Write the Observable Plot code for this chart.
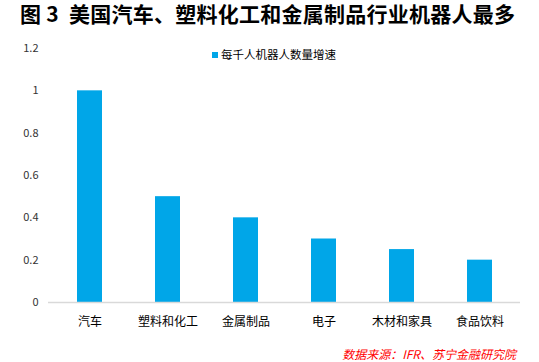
<!DOCTYPE html>
<html><head><meta charset="utf-8">
<script src="https://cdn.jsdelivr.net/npm/d3@7"></script>
<script src="https://cdn.jsdelivr.net/npm/@observablehq/plot@0.6"></script>
<style>
body{margin:0;background:#fff;font-family:"Noto Sans CJK SC",sans-serif;}
#wrap{position:relative;width:539px;height:362px;overflow:hidden;}
#title{height:40px;padding-left:20px;font-size:21px;line-height:26px;font-weight:bold;color:#000;letter-spacing:0.25px;white-space:nowrap;box-sizing:border-box;}
#chart{height:295px;}
#chart svg{display:block;}
#legend{position:absolute;left:212px;top:46px;font-size:11.5px;line-height:17px;color:#000;white-space:nowrap;}
#legend span.sw{display:inline-block;width:6px;height:6px;background:#00a6e8;margin-right:3px;vertical-align:middle;position:relative;top:-1px;}
#caption{height:27px;padding-top:10px;padding-right:23px;text-align:right;font-size:12px;line-height:17px;color:#ff0000;font-style:italic;white-space:nowrap;box-sizing:border-box;}
</style></head>
<body>
<div id="wrap">
<div id="title">图 3&nbsp; 美国汽车、塑料化工和金属制品行业机器人最多</div>
<div id="chart"></div>
<div id="caption">数据来源：IFR、苏宁金融研究院</div>
<div id="legend"><span class="sw"></span>每千人机器人数量增速</div>
</div>
<script>
const categories = ["汽车","塑料和化工","金属制品","电子","木材和家具","食品饮料"];
const values = [1, 0.5, 0.4, 0.3, 0.25, 0.2];
const yTicks = [0, 0.2, 0.4, 0.6, 0.8, 1, 1.2];
const seriesName = "每千人机器人数量增速";

const data = categories.map((c, i) => ({category: c, value: values[i]}));

const chart = Plot.plot({
  width: 539,
  height: 295,
  marginLeft: 48,
  marginRight: 19,
  marginTop: 8,
  marginBottom: 33,
  style: {fontFamily: "'Noto Sans CJK SC', sans-serif", background: "transparent", fontSize: "12px"},
  x: {domain: categories, paddingInner: 0.68, paddingOuter: 0.34, label: null, tickSize: 0, tickPadding: 15},
  y: {domain: [0, 1.2000001], label: null},
  marks: [
    Plot.axisY({ticks: yTicks, tickSize: 0, tickPadding: 10, tickFormat: d => String(d), fontSize: 11, fill: "#333", label: null}),
    Plot.barY(data, {x: "category", y: "value", fill: "#00a6e8"}),
    Plot.ruleY([0], {stroke: "#d9d9d9", strokeWidth: 1.5})
  ]
});
document.getElementById("chart").appendChild(chart);
</script>
</body></html>
